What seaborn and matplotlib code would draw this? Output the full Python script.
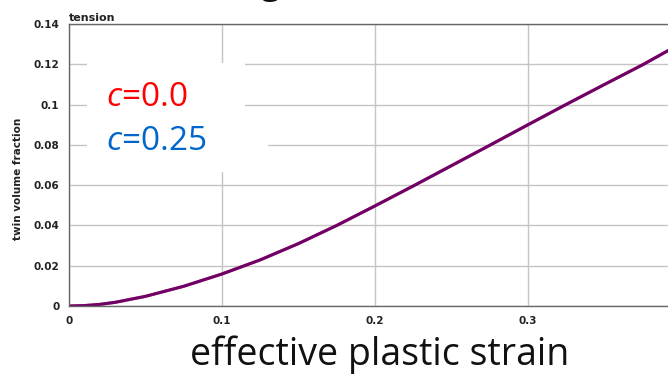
import numpy as np
import pandas as pd
import matplotlib.pyplot as plt
import seaborn as sns
from matplotlib.patches import Rectangle
from matplotlib.ticker import MultipleLocator

# data
strain = [0.0, 0.01, 0.02, 0.03, 0.05, 0.075, 0.1, 0.125, 0.15, 0.175,
          0.2, 0.225, 0.25, 0.275, 0.3, 0.325, 0.35, 0.375, 0.392]
frac_c0 = [0.0, 0.0002, 0.0008, 0.0018, 0.0048, 0.0098, 0.0159, 0.0229, 0.0310,
           0.0400, 0.0497, 0.0596, 0.0697, 0.0798, 0.0900, 0.1001, 0.1100, 0.1198, 0.1270]
frac_c025 = frac_c0
series_labels = ["c=0.0", "c=0.25"]
line_colors = ["#d00000", "#2000c0"]
text_colors = ["#ff0000", "#0066cc"]
xticks = [0, 0.1, 0.2, 0.3]
xtick_labels = ["0", "0.1", "0.2", "0.3"]
yticks = [0, 0.02, 0.04, 0.06, 0.08, 0.1, 0.12, 0.14]
ytick_labels = ["0", "0.02", "0.04", "0.06", "0.08", "0.1", "0.12", "0.14"]

df = pd.DataFrame({
    "strain": strain * 2,
    "frac": frac_c0 + frac_c025,
    "series": [series_labels[0]] * len(strain) + [series_labels[1]] * len(strain),
})

sns.set_style("white")
plt.rcParams["font.family"] = ["DejaVu Sans"]
plt.rcParams["mathtext.fontset"] = "custom"
plt.rcParams["mathtext.it"] = "Open Sans:italic"
plt.rcParams["mathtext.rm"] = "Open Sans"

fig = plt.figure(figsize=(6.68, 3.74), dpi=100)
ax = fig.add_axes([0.1033, 0.1818, 0.9162, 0.754])

# two overlapping series -> purple
for lab, col, a in zip(series_labels, line_colors, [1.0, 0.55]):
    sns.lineplot(data=df[df["series"] == lab], x="strain", y="frac",
                 color=col, alpha=a, linewidth=2.2, ax=ax, legend=False)

ax.set_xlim(0, 0.4)
ax.set_ylim(0, 0.14)
ax.xaxis.set_minor_locator(MultipleLocator(0.05))
ax.yaxis.set_minor_locator(MultipleLocator(0.01))
ax.set_xticks(xticks)
ax.set_xticklabels(xtick_labels)
ax.set_yticks(yticks)
ax.set_yticklabels(ytick_labels)

ax.grid(True, which="major", color="#c4c4c4", linewidth=1.0)
ax.set_axisbelow(True)
for s in ["left", "bottom", "top"]:
    ax.spines[s].set_color("#666666")
    ax.spines[s].set_linewidth(1.0)
ax.spines["right"].set_visible(False)

ax.tick_params(axis="both", which="major", labelsize=7.5, length=5,
               color="#666666", width=1, direction="out", pad=2)
ax.tick_params(axis="both", which="minor", length=4, color="#666666",
               width=1, direction="in")
for t in ax.get_xticklabels() + ax.get_yticklabels():
    t.set_fontweight("bold")
    t.set_color("#222222")

ax.set_ylabel("twin volume fraction", fontsize=7.5, fontweight="bold",
              color="#222222")
ax.yaxis.set_label_coords(-0.075, 0.45)
ax.set_xlabel("")
ax.set_title("tension", fontsize=8, fontweight="bold", loc="left",
             color="#222222", pad=2)

fig.text(380 / 668, 1 - 355 / 374, "effective plastic strain", fontsize=27,
         family=["Open Sans", "DejaVu Sans"], ha="center", va="center", color="#111111")

# white box behind the legend text
fig.patches.append(Rectangle((87 / 668, 1 - 125 / 374), 158 / 668, 62 / 374,
                             transform=fig.transFigure, facecolor="white",
                             edgecolor="none", zorder=3))
fig.patches.append(Rectangle((87 / 668, 1 - 172 / 374), 181 / 668, 50 / 374,
                             transform=fig.transFigure, facecolor="white",
                             edgecolor="none", zorder=3))

for i, (lab, col) in enumerate(zip(series_labels, text_colors)):
    fig.text(106 / 668, 1 - (98 + 44 * i) / 374,
             "$\\mathit{c}$" + lab[1:], fontsize=24, color=col,
             family=["Open Sans", "DejaVu Sans"], va="center", ha="left", zorder=4)

# clipped descender of a title cut off above
fig.text(270 / 668, 1 + 7 / 374, "g", fontsize=26, family=["Open Sans", "DejaVu Sans"],
         ha="center", va="baseline", color="#111111")

fig.savefig("out.png", dpi=100)
